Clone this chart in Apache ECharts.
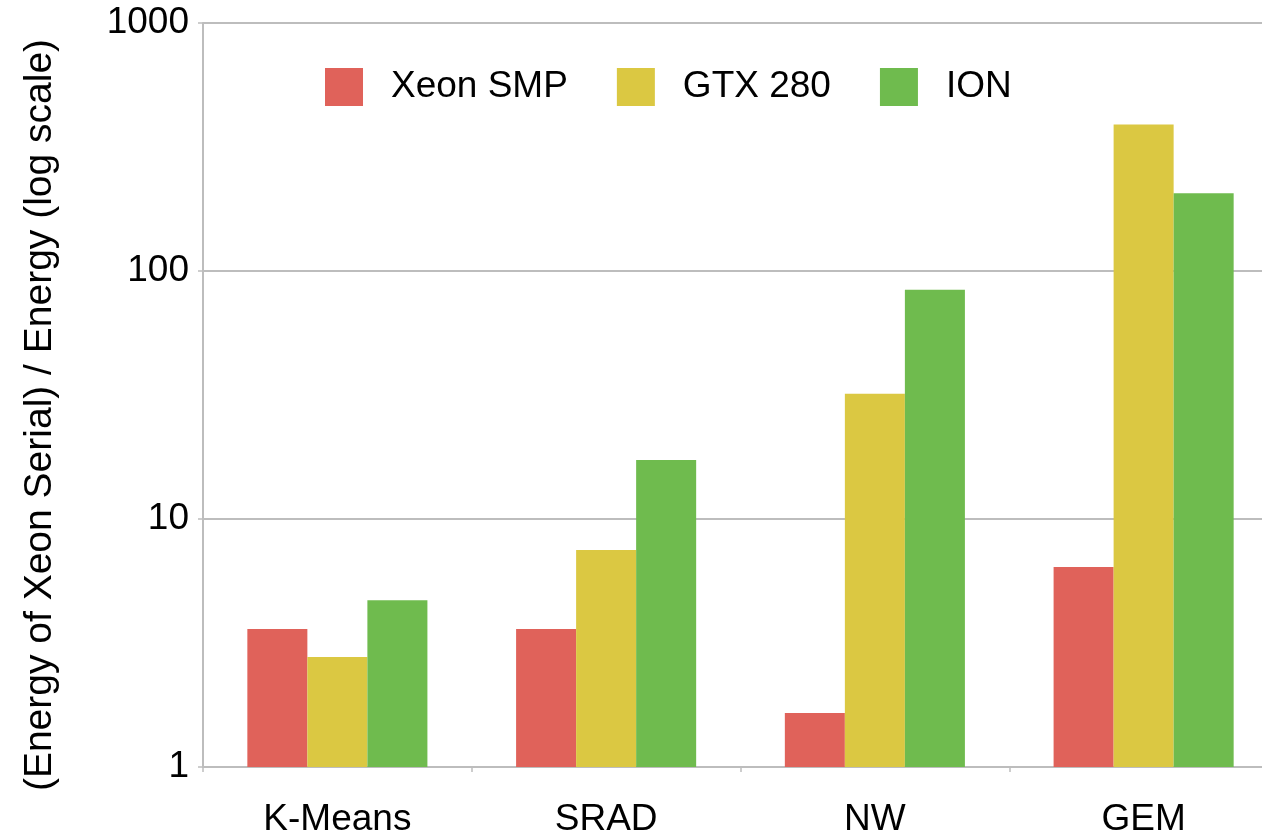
<!DOCTYPE html>
<html>
<head>
<meta charset="utf-8">
<script src="https://cdn.jsdelivr.net/npm/echarts@6/dist/echarts.min.js"></script>
<style>html,body{margin:0;padding:0;background:#fff}#c{width:1262px;height:836px}</style>
</head>
<body>
<div id="c"></div>
<script>
const categories = ['K-Means', 'SRAD', 'NW', 'GEM'];
const seriesNames = ['Xeon SMP', 'GTX 280', 'ION'];
const xeonSMP = [3.6, 3.6, 1.65, 6.4];
const gtx280 = [2.78, 7.5, 32, 390];
const ion = [4.7, 17.3, 84, 206];
const colors = ['#e0625a', '#dbc842', '#6fbb4e'];
const yTicks = [1, 10, 100, 1000];

const FONT = '"Liberation Sans", Arial, Helvetica, sans-serif';
const chart = echarts.init(document.getElementById('c'), null, {renderer: 'canvas'});
const seriesData = [xeonSMP, gtx280, ion];
chart.setOption({
  animation: false,
  color: colors,
  textStyle: {fontFamily: FONT, color: '#000'},
  legend: {
    left: 325, top: 68, padding: 0,
    itemWidth: 38, itemHeight: 38, itemGap: 49,
    icon: 'rect',
    textStyle: {fontSize: 37, color: '#000', fontFamily: FONT, padding: [0, 0, 0, 23]},
    data: seriesNames
  },
  grid: {left: 203, top: 23, width: 1075, height: 744, outerBoundsMode: 'none', containLabel: false},
  xAxis: {
    type: 'category',
    data: categories,
    axisLine: {lineStyle: {color: '#bdbdbd', width: 2}},
    axisTick: {show: true, length: 5, lineStyle: {color: '#bdbdbd', width: 1.5}},
    axisLabel: {fontSize: 37, color: '#000', margin: 34, fontFamily: FONT}
  },
  yAxis: {
    type: 'log', logBase: 10, min: 1, max: 1000,
    name: '(Energy of Xeon Serial) / Energy (log scale)',
    nameLocation: 'middle', nameGap: 143,
    nameTextStyle: {fontSize: 39, color: '#000', fontFamily: FONT, padding: [0, 40, 0, 0]},
    axisLine: {show: true, lineStyle: {color: '#bdbdbd', width: 2}},
    axisTick: {show: true, length: 5, lineStyle: {color: '#bdbdbd', width: 1.5}},
    splitLine: {show: true, lineStyle: {color: '#bdbdbd', width: 2}},
    axisLabel: {fontSize: 37, color: '#000', margin: 14, fontFamily: FONT,
      formatter: v => String(Math.round(v))}
  },
  series: seriesNames.map((n, i) => ({
    name: n, type: 'bar', data: seriesData[i],
    barGap: '0%', barCategoryGap: '33%',
    itemStyle: {color: colors[i]}
  }))
});
</script>
</body>
</html>
